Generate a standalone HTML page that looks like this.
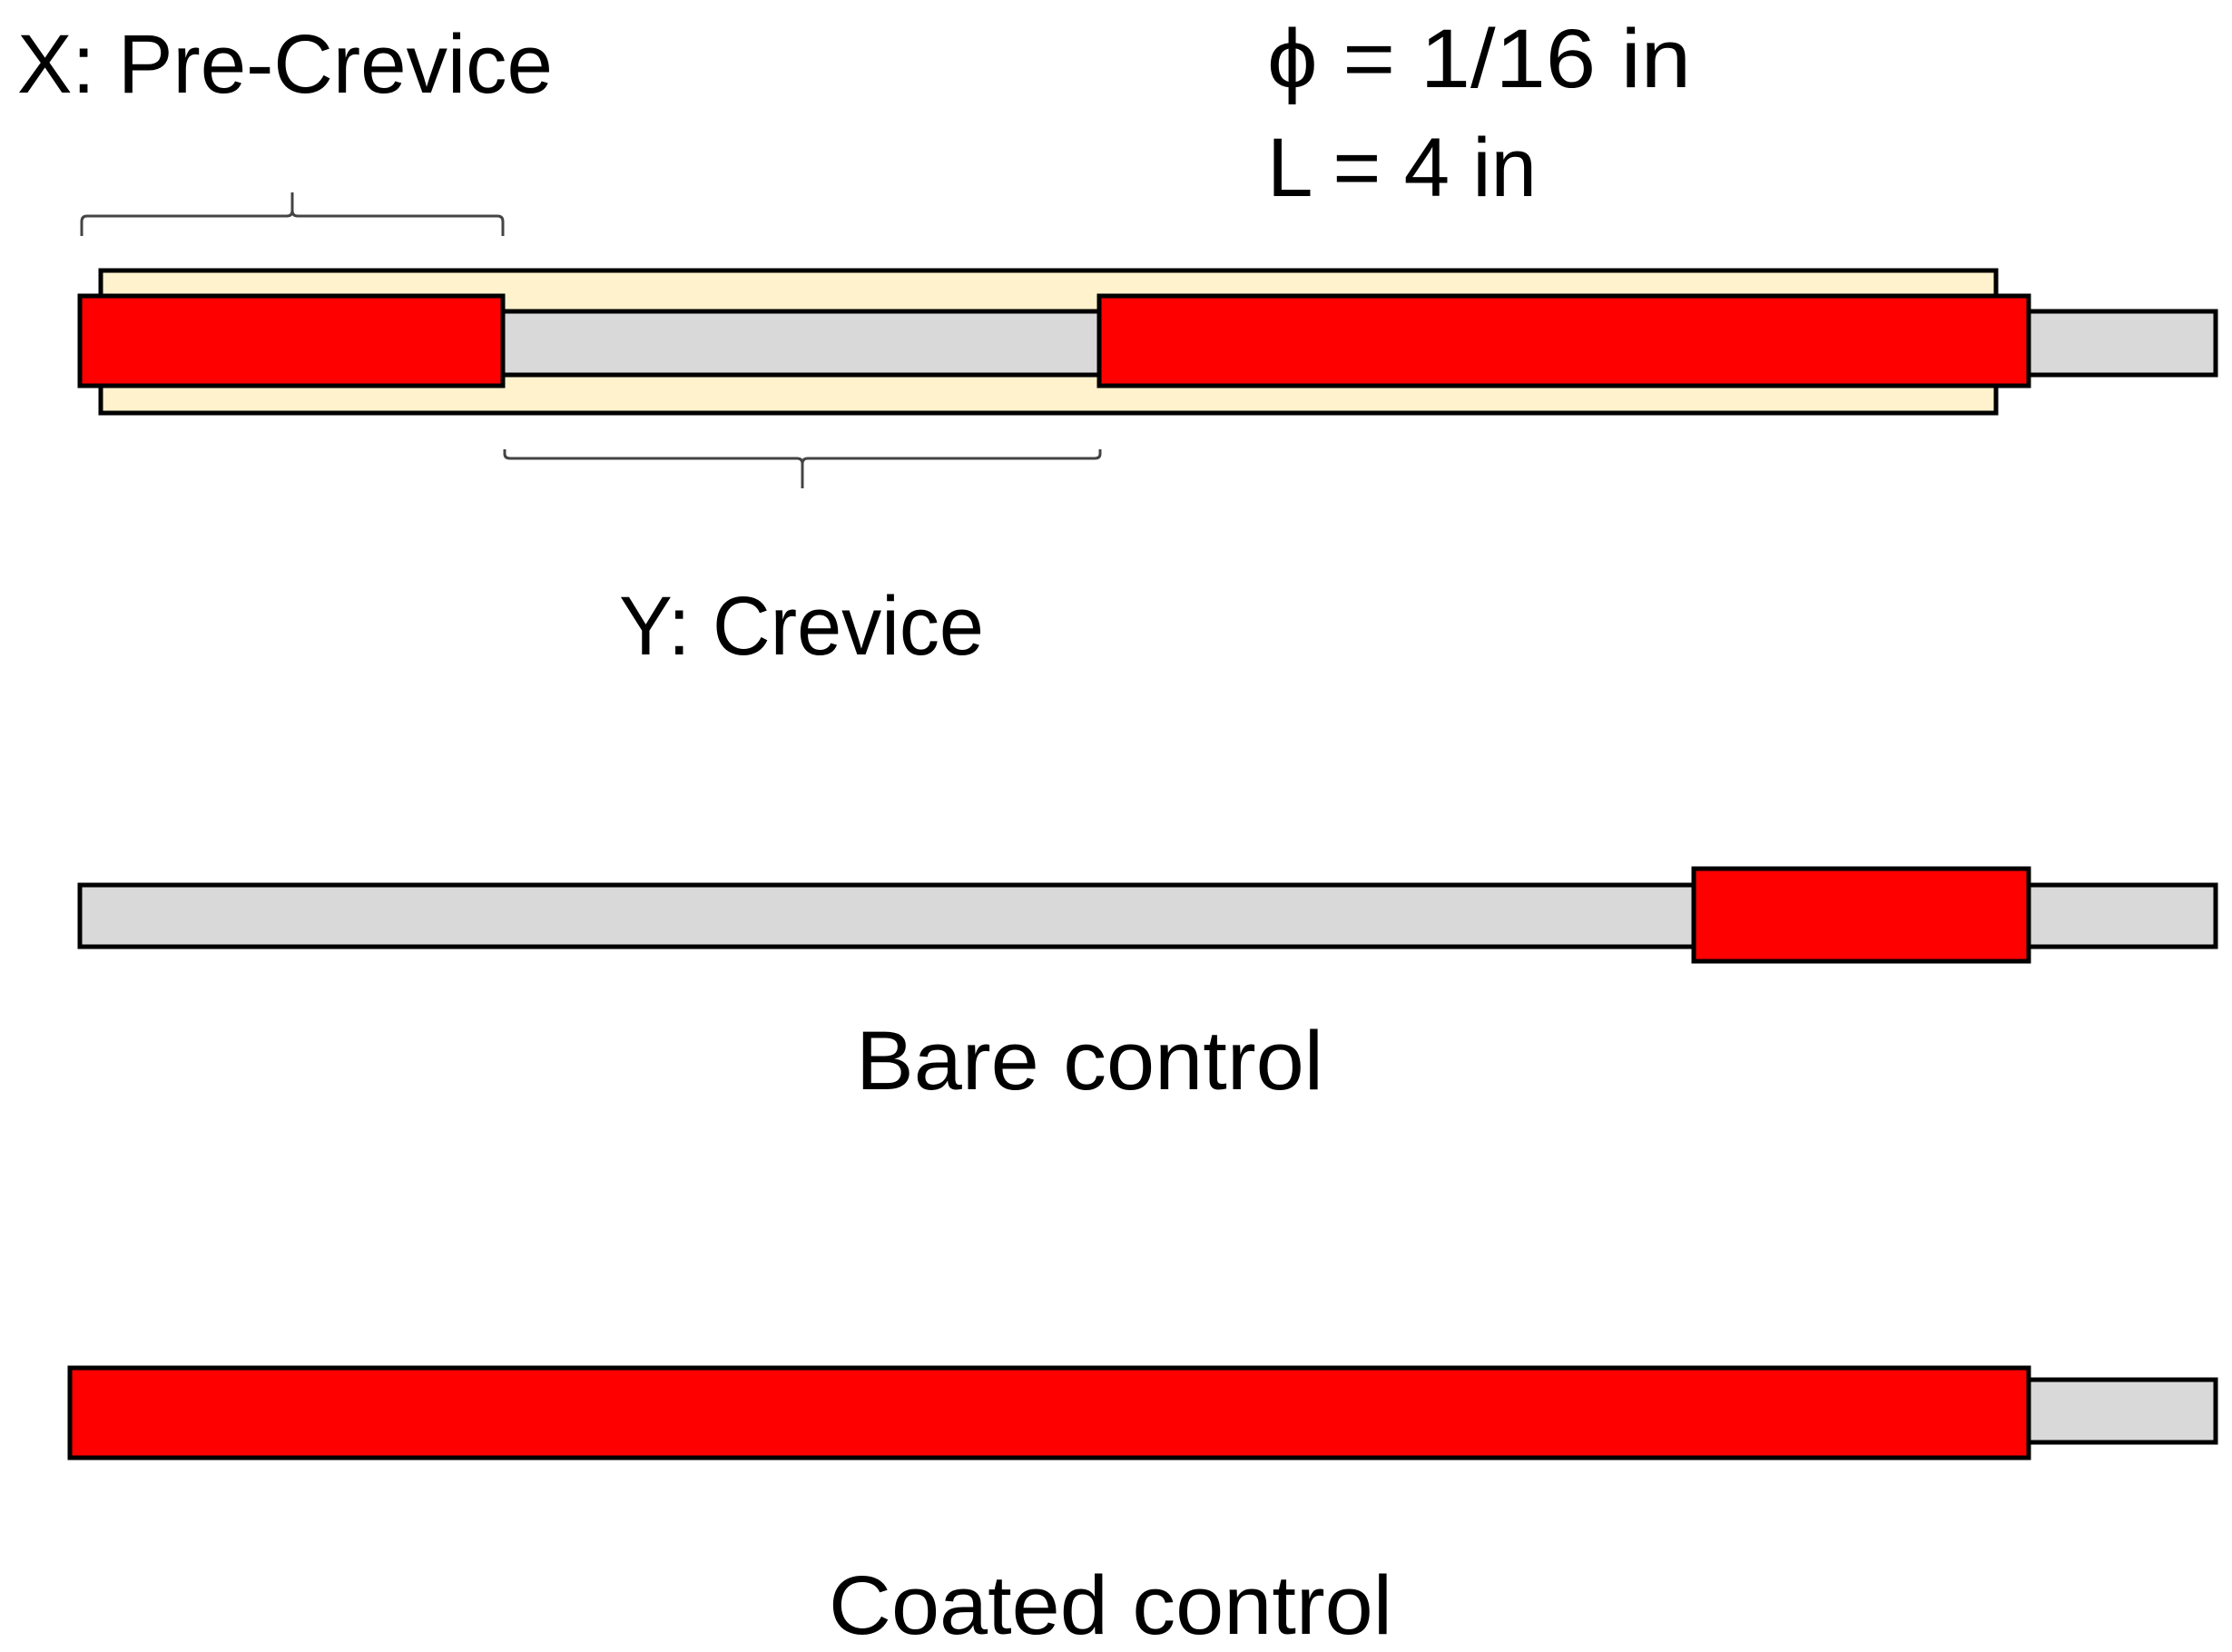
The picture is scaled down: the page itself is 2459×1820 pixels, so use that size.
<!DOCTYPE html>
<html><head><style>html,body{margin:0;padding:0;background:#fff}svg{display:block}</style></head>
<body>
<svg width="2459" height="1820" viewBox="0 0 2459 1820" xmlns="http://www.w3.org/2000/svg" font-family="'Liberation Sans', sans-serif" fill="#000">
<g stroke="#000" stroke-width="5">
<rect x="111" y="298" width="2088" height="157" fill="#fff2cc"/>
<rect x="554" y="343" width="1887" height="70" fill="#d9d9d9"/>
<rect x="88" y="326" width="466" height="99" fill="#ff0000"/>
<rect x="1211" y="326" width="1024" height="99" fill="#ff0000"/>
<rect x="88" y="975" width="2353" height="68" fill="#d9d9d9"/>
<rect x="1866" y="957" width="369" height="102" fill="#ff0000"/>
<rect x="2235" y="1520" width="206" height="69" fill="#d9d9d9"/>
<rect x="77" y="1507" width="2158" height="99" fill="#ff0000"/>
</g>
<g stroke="#444" stroke-width="3" fill="none">
<path d="M90 260 V244 Q90 238 96 238 H316 Q322 238 322 232 V212 M322 232 Q322 238 328 238 H548 Q554 238 554 244 V260"/>
<path d="M556 495 V500 Q556 505 562 505 H878 Q884 505 884 511 V538 M884 511 Q884 505 890 505 H1206 Q1212 505 1212 500 V495"/>
</g>
<g font-size="92">
<text x="19" y="102" textLength="590" lengthAdjust="spacingAndGlyphs">X: Pre-Crevice</text>
<text x="1396" y="96" textLength="467" lengthAdjust="spacingAndGlyphs">ϕ = 1/16 in</text>
<text x="1396" y="216" textLength="297" lengthAdjust="spacingAndGlyphs">L = 4 in</text>
<text x="682" y="721" textLength="402" lengthAdjust="spacingAndGlyphs">Y: Crevice</text>
<text x="943" y="1200" textLength="515" lengthAdjust="spacingAndGlyphs">Bare control</text>
<text x="913" y="1800" textLength="621" lengthAdjust="spacingAndGlyphs">Coated control</text>
</g>
</svg>
</body></html>
